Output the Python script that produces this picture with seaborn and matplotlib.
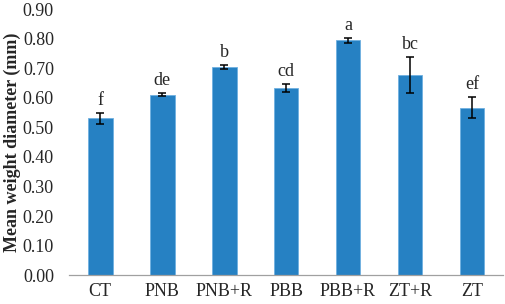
import numpy as np
import pandas as pd
import seaborn as sns
import matplotlib.pyplot as plt

treatments = ['CT', 'PNB', 'PNB+R', 'PBB', 'PBB+R', 'ZT+R', 'ZT']
mwd = [0.530, 0.611, 0.703, 0.632, 0.794, 0.676, 0.567]
se = [0.017, 0.005, 0.007, 0.0135, 0.008, 0.061, 0.035]
letters = ['f', 'de', 'b', 'cd', 'a', 'bc', 'ef']

df = pd.DataFrame({'treatment': treatments, 'mwd': mwd})

sns.set_style('white')
plt.rcParams['font.family'] = ['Liberation Serif', 'DejaVu Serif']

fig = plt.figure(figsize=(5.05, 3.04), dpi=100)
ax = fig.add_axes([0.137, 0.095, 0.859, 0.875])

sns.barplot(data=df, x='treatment', y='mwd', color='#2681c3', width=0.4,
            edgecolor='#6fb0e0', linewidth=0.6, saturation=1, ax=ax)
x = np.arange(len(treatments))
ax.errorbar(x, mwd, yerr=se, fmt='none', ecolor='black', elinewidth=1.1,
            capsize=3, capthick=1.1)
for xi, v, e, lab in zip(x, mwd, se, letters):
    ax.annotate(lab, (xi, v + e), xytext=(0, 3), textcoords='offset points',
                ha='center', va='bottom', fontsize=13)

ax.set_ylim(0, 0.9)
ax.set_xlim(-0.5, len(treatments) - 0.5)
ax.set_yticks(np.arange(0, 0.91, 0.1))
ax.set_yticklabels(['%.2f' % t for t in np.arange(0, 0.91, 0.1)], fontsize=13)
ax.set_xticks(x)
ax.set_xticklabels(treatments, fontsize=13)
ax.set_xticks(np.arange(-0.5, len(treatments)), minor=True)
ax.tick_params(axis='x', which='major', length=0, pad=6)
ax.tick_params(axis='x', which='minor', length=5, color='#a0a0a0', width=0.9)
ax.tick_params(axis='y', length=0, pad=11)
ax.set_xlabel('')
ax.set_ylabel('Mean weight diameter (mm)', fontsize=13, fontweight='bold',
              labelpad=1)

for s in ['top', 'right', 'left']:
    ax.spines[s].set_visible(False)
ax.spines['bottom'].set_color('#a0a0a0')
ax.spines['bottom'].set_linewidth(0.9)

fig.savefig('out.png', dpi=100)
